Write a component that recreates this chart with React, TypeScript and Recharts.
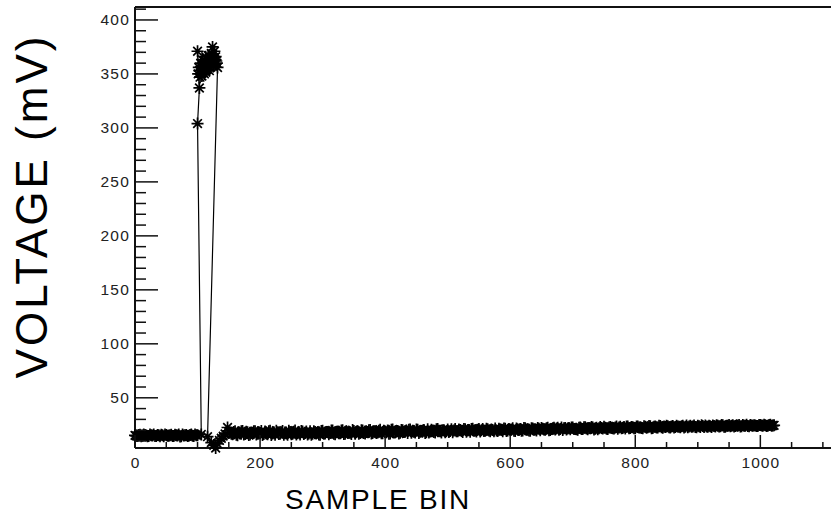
import React from 'react';
import { ScatterChart, Scatter, XAxis, YAxis, ReferenceLine } from 'recharts';

// ---- data ----
// baseline before the pulse: even bins 0,4,...,100 and 2,6,...,98
const baselineMvA = [
  15.2, 14.6, 15.8, 14.9, 15.5, 14.3, 15.9, 15.1, 14.7, 15.6, 14.4, 15.3, 16.0,
  14.8, 15.4, 14.5, 15.7, 15.0, 14.2, 15.9, 15.2, 14.6, 15.5, 14.9, 16.1, 15.3,
];
const baselineMvB = [
  14.8, 15.6, 14.4, 15.9, 15.0, 14.6, 15.4, 16.0, 14.5, 15.2, 15.7, 14.3, 15.5,
  14.9, 15.8, 14.7, 15.3, 16.1, 14.4, 15.1, 15.6, 14.8, 15.9, 14.5, 15.4,
];
const baselineStartBin = 0;

// the pulse and the undershoot, in recorded order
const pulseBins = [
  106, 100, 103, 101, 100, 102, 104, 103, 105, 106, 108, 107, 109, 110, 112, 111,
  113, 114, 115, 113, 116, 117, 118, 120, 119, 121, 122, 123, 124, 126, 125, 128,
  127, 129, 131, 130, 132, 116, 122, 129, 126, 132, 135, 138, 141, 144, 148,
];
const pulseMv = [
  16.0, 304, 337, 350, 371, 356, 347, 353, 360, 351, 363, 348, 358, 357, 362, 350,
  352, 364, 354, 366, 360, 367, 357, 361, 353, 358, 369, 362, 375, 365, 357, 363,
  371, 366, 360, 362, 356, 14.0, 8.5, 3.5, 6.0, 7.5, 10.5, 12.5, 14.5, 16.5, 22.5,
];

// slowly rising tail: bins 152,156,...,1020 and 154,158,...,1022
const tailStartBin = 152;
const tailMvA = [
  17.8, 16.2, 18.9, 15.4, 17.1, 19.3, 16.5, 18.2, 15.9, 17.6,
  19.0, 16.8, 17.4, 15.6, 18.7, 16.3, 19.4, 17.0, 15.8, 18.1,
  16.9, 19.2, 17.5, 15.7, 18.4, 16.6, 19.6, 17.2, 16.0, 18.8,
  17.3, 15.9, 19.1, 16.7, 18.3, 17.8, 15.8, 19.5, 16.9, 18.0,
  17.4, 19.8, 16.3, 18.6, 17.1, 19.9, 16.6, 18.2, 17.7, 20.1,
  16.8, 18.9, 17.5, 19.6, 16.9, 18.4, 20.2, 17.3, 19.0, 17.9,
  20.4, 17.2, 18.8, 19.7, 17.0, 20.6, 18.1, 19.3, 17.6, 20.0,
  18.5, 17.4, 20.7, 19.0, 17.8, 20.3, 18.6, 19.8, 17.5, 20.9,
  18.7, 19.5, 17.9, 21.0, 18.9, 19.9, 18.2, 20.6, 19.3, 18.0,
  21.2, 19.1, 20.1, 18.4, 20.8, 19.6, 18.6, 21.3, 19.8, 20.4,
  18.8, 21.1, 19.4, 20.9, 18.9, 20.2, 21.5, 19.2, 20.6, 19.0,
  21.4, 19.7, 20.3, 21.8, 19.3, 20.8, 21.2, 19.6, 21.9, 20.5,
  19.5, 21.6, 20.7, 22.0, 19.9, 21.3, 20.4, 22.2, 20.1, 21.7,
  20.6, 22.3, 21.0, 20.2, 22.1, 21.5, 20.8, 22.5, 21.2, 20.5,
  22.4, 21.1, 22.8, 20.9, 21.9, 22.6, 21.3, 20.8, 22.9, 21.6,
  22.2, 21.0, 23.0, 21.8, 22.5, 21.4, 23.2, 22.0, 21.6, 23.3,
  22.1, 22.8, 21.7, 23.4, 22.4, 21.9, 23.1, 22.7, 23.6, 22.0,
  23.3, 22.5, 23.8, 22.2, 23.0, 23.7, 22.6, 23.9, 22.9, 23.4,
  22.7, 24.0, 23.2, 22.8, 24.2, 23.5, 23.0, 24.1, 22.9, 23.8,
  24.3, 23.1, 23.6, 24.4, 23.3, 24.0, 23.7, 24.5, 23.2, 24.1,
  23.6, 24.6, 23.9, 24.2, 23.4, 24.7, 24.0, 23.8, 24.8, 24.1,
  24.4, 23.9, 24.9, 24.2, 24.6, 24.0, 25.0, 24.3,
];
const tailMvB = [
  16.6, 18.4, 15.7, 17.9, 19.1, 16.0, 18.6, 15.5, 17.3, 19.0,
  15.9, 18.0, 19.3, 16.4, 17.2, 18.9, 15.6, 17.7, 19.5, 16.5,
  18.2, 15.8, 17.0, 19.4, 16.2, 18.5, 15.9, 17.8, 19.2, 16.4,
  18.7, 16.9, 15.7, 19.0, 17.5, 16.1, 19.3, 17.0, 18.4, 16.3,
  19.6, 16.8, 18.1, 17.2, 19.7, 16.4, 18.9, 17.6, 16.5, 19.2,
  18.0, 16.7, 19.9, 17.4, 18.3, 20.0, 16.9, 18.7, 17.3, 19.5,
  17.1, 19.4, 18.0, 16.8, 20.3, 17.9, 19.0, 16.9, 20.1, 18.3,
  19.6, 20.4, 17.7, 18.5, 20.6, 17.3, 19.2, 20.2, 18.1, 17.9,
  20.5, 18.3, 20.8, 19.4, 17.8, 20.0, 19.1, 18.4, 20.9, 19.7,
  18.9, 20.6, 19.3, 21.1, 18.5, 20.2, 21.0, 19.4, 18.7, 21.2,
  20.0, 19.2, 21.3, 19.7, 20.7, 18.9, 19.8, 21.4, 20.3, 21.6,
  19.2, 21.0, 20.6, 19.5, 21.5, 20.1, 19.4, 22.0, 20.7, 19.8,
  21.8, 20.3, 19.7, 21.4, 22.1, 20.6, 21.9, 19.9, 21.1, 22.3,
  21.5, 20.4, 22.4, 21.7, 20.6, 22.0, 22.6, 21.1, 20.9, 22.2,
  21.0, 22.7, 21.5, 22.1, 23.0, 20.7, 22.3, 21.8, 22.0, 23.1,
  21.3, 22.6, 22.2, 21.5, 23.4, 22.4, 21.7, 22.9, 23.5, 21.9,
  23.0, 21.8, 23.3, 22.5, 22.0, 23.7, 22.3, 23.8, 21.9, 23.2,
  22.4, 24.0, 22.8, 23.5, 24.1, 22.7, 23.4, 22.5, 24.2, 23.1,
  23.6, 22.6, 24.3, 23.3, 23.1, 24.4, 22.8, 23.7, 24.5, 23.0,
  23.5, 24.2, 23.0, 23.8, 24.6, 23.4, 24.7, 23.1, 24.0, 24.8,
  24.2, 23.3, 24.5, 24.9, 23.7, 24.1, 25.0, 23.6, 24.3, 24.6,
  23.8, 24.7, 24.3, 25.1, 23.9, 24.8, 24.1, 24.5,
];

// axes
const xDomain = [0, 1113];
const yDomain = [4, 412];
const xTicks = [0, 50, 100, 150, 200, 250, 300, 350, 400, 450, 500, 550, 600, 650, 700, 750, 800, 850, 900, 950, 1000, 1050, 1100];
const xLabels = [0, 200, 400, 600, 800, 1000];
const yTicks = [10, 20, 30, 40, 50, 60, 70, 80, 90, 100, 110, 120, 130, 140, 150, 160, 170, 180, 190, 200, 210, 220, 230, 240, 250, 260, 270, 280, 290, 300, 310, 320, 330, 340, 350, 360, 370, 380, 390, 400, 410];
const yLabels = [50, 100, 150, 200, 250, 300, 350, 400];

const xTitle = 'SAMPLE BIN';
const yTitle = 'VOLTAGE (mV)';

// ---- table for the library (samples in recorded order) ----
const points: { bin: number; mv: number }[] = [];
baselineMvA.forEach((v, i) => {
  points.push({ bin: baselineStartBin + i * 4, mv: v });
  if (i < baselineMvB.length) points.push({ bin: baselineStartBin + i * 4 + 2, mv: baselineMvB[i] });
});
pulseMv.forEach((v, i) => points.push({ bin: pulseBins[i], mv: v }));
tailMvA.forEach((v, i) => {
  points.push({ bin: tailStartBin + i * 4, mv: v });
  if (i < tailMvB.length) points.push({ bin: tailStartBin + i * 4 + 2, mv: tailMvB[i] });
});

const FONT = '"Liberation Sans", Arial, Helvetica, sans-serif';
const INK = '#111';

const Star = (props: any) => {
  const { cx, cy } = props;
  if (cx == null || cy == null) return null;
  const r = 6;
  const d = r * 0.72;
  return (
    <path
      d={`M${cx - r},${cy}H${cx + r}M${cx},${cy - r}V${cy + r}M${cx - d},${cy - d}L${cx + d},${cy + d}M${cx - d},${cy + d}L${cx + d},${cy - d}`}
      stroke="#000"
      strokeWidth={1.7}
      fill="none"
    />
  );
};

const XTick = (props: any) => {
  const { x, y, payload } = props;
  const v = payload.value;
  const major = xLabels.includes(v);
  return (
    <g>
      <line x1={x} x2={x} y1={y} y2={y - (major ? 13 : 6)} stroke={INK} strokeWidth={1.5} />
      {major && (
        <text x={x + 0.5} y={y + 19.5} textAnchor="middle" fontSize={15.5} fontFamily={FONT} letterSpacing={1} fill="#222">
          {v}
        </text>
      )}
    </g>
  );
};

const YTick = (props: any) => {
  const { x, y, payload } = props;
  const v = payload.value;
  const major = yLabels.includes(v);
  return (
    <g>
      <line x1={x} x2={x + (major ? 23 : 11)} y1={y} y2={y} stroke={INK} strokeWidth={1.5} />
      {major && (
        <text x={x - 5} y={y + 5.5} textAnchor="end" fontSize={15.5} fontFamily={FONT} letterSpacing={1.2} fill="#222">
          {v}
        </text>
      )}
    </g>
  );
};

export default function App() {
  return (
    <div style={{ position: 'absolute', left: 0, top: 0, width: 831, height: 516, overflow: 'hidden', background: '#fff' }}>
      <ScatterChart width={831} height={516} margin={{ top: 7, right: 0, bottom: 0, left: 0 }}>
        <XAxis
          type="number"
          dataKey="bin"
          domain={xDomain}
          ticks={xTicks}
          interval={0}
          tickSize={0}
          tickMargin={0}
          tickLine={false}
          tick={<XTick />}
          height={68}
          axisLine={{ stroke: INK, strokeWidth: 2 }}
          label={{
            content: () => (
              <text x={378} y={509} textAnchor="middle" fontSize={28} fontFamily={FONT} letterSpacing={1.8} fill="#000">
                {xTitle}
              </text>
            ),
          }}
        />
        <YAxis
          type="number"
          dataKey="mv"
          domain={yDomain}
          ticks={yTicks}
          interval={0}
          tickSize={0}
          tickMargin={0}
          tickLine={false}
          tick={<YTick />}
          width={135}
          axisLine={{ stroke: INK, strokeWidth: 2 }}
          label={{
            content: () => (
              <text x={47} y={206} transform="rotate(-90 47 206)" textAnchor="middle" fontSize={44} fontFamily={FONT} letterSpacing={3} fill="#000">
                {yTitle}
              </text>
            ),
          }}
        />
        <ReferenceLine y={yDomain[1]} stroke={INK} strokeWidth={2} ifOverflow="visible" />
        <Scatter
          data={points}
          line={{ stroke: '#000', strokeWidth: 1.2 }}
          shape={<Star />}
          isAnimationActive={false}
        />
      </ScatterChart>
    </div>
  );
}
